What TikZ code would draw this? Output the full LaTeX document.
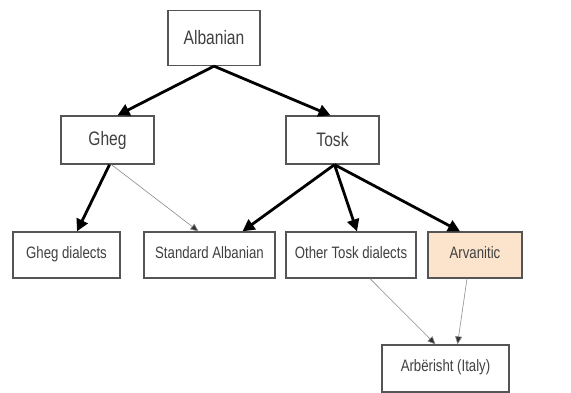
\documentclass[tikz,border=0pt]{standalone}
\usepackage{fontspec}
\setmainfont{Liberation Sans}
\newfontfamily\narrowsans[FakeStretch=0.8]{Liberation Sans}
\usetikzlibrary{arrows.meta}
\definecolor{peach}{HTML}{FCE4CC}
\definecolor{boxline}{HTML}{555555}
\tikzset{
  box/.style={draw=boxline, line width=1.3pt, fill=white, rectangle, inner sep=0pt, text=black!75},
  topbox/.style={box, font=\narrowsans\fontsize{19.5}{21}\selectfont},
  lowbox/.style={box, font=\narrowsans\fontsize{16.5}{18}\selectfont},
  strong/.style={line width=2.8pt, -{Triangle[length=12pt,width=12pt]}},
  weak/.style={line width=0.6pt, draw=black!45, -{Triangle[length=8pt,width=7pt,fill=black!80]}}
}
\begin{document}
\begin{tikzpicture}[x=1pt,y=-1pt]
\useasboundingbox[fill=white] (0,0) rectangle (571,393);
\node[topbox, minimum width=92pt, minimum height=55pt] (alb) at (214,38) {\raisebox{2pt}{Albanian}};
\node[topbox, minimum width=93pt, minimum height=48pt] (gheg) at (107.5,140) {\raisebox{2pt}{Gheg}};
\node[topbox, minimum width=93pt, minimum height=48pt] (tosk) at (332.5,140) {\raisebox{2pt}{Tosk}};
\node[lowbox, minimum width=107pt, minimum height=46pt] (ghegd) at (66.5,255) {\raisebox{5pt}{Gheg dialects}};
\node[lowbox, minimum width=131pt, minimum height=46pt] (std) at (209.5,255) {\raisebox{5pt}{Standard Albanian}};
\node[lowbox, minimum width=130pt, minimum height=46pt] (otosk) at (351,255) {\raisebox{5pt}{Other Tosk dialects}};
\node[lowbox, fill=peach, minimum width=94pt, minimum height=46pt] (arv) at (475,255) {\raisebox{5pt}{Arvanitic}};
\node[lowbox, minimum width=127pt, minimum height=47pt] (arb) at (445.5,368.5) {\raisebox{5pt}{Arbërisht (Italy)}};

\draw[strong] (alb.south) -- ([xshift=10pt]gheg.north);
\draw[strong] (alb.south) -- ([xshift=-2pt]tosk.north);
\draw[strong] ([xshift=2pt]gheg.south) -- ([xshift=10.5pt]ghegd.north);
\draw[weak] ([xshift=4pt]gheg.south) -- ([xshift=-11pt]std.north);
\draw[strong] ([xshift=2pt]tosk.south) -- ([xshift=33pt]std.north);
\draw[strong] ([xshift=2pt]tosk.south) -- ([xshift=6pt]otosk.north);
\draw[strong] ([xshift=2pt]tosk.south) -- ([xshift=-15pt]arv.north);
\draw[weak] ([xshift=19pt]otosk.south) -- ([xshift=-10pt]arb.north);
\draw[weak] ([xshift=-8pt]arv.south) -- ([xshift=12pt]arb.north);
\end{tikzpicture}
\end{document}
